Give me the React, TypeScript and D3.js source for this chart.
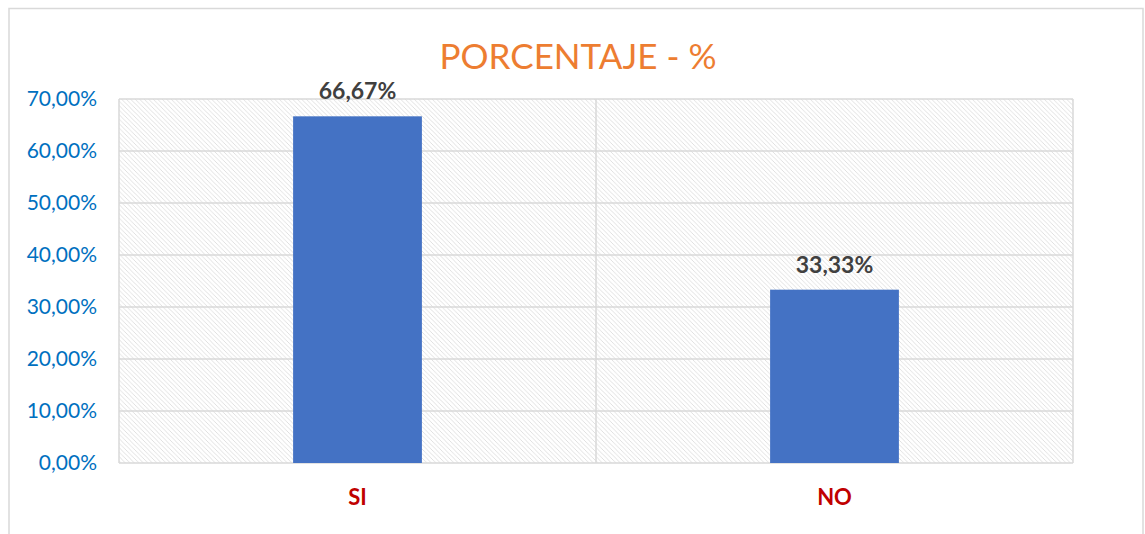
import React from "react";
import * as d3 from "d3";

const categories = ["SI", "NO"];
const values = [66.67, 33.33];
const valueLabels = ["66,67%", "33,33%"];
const yTicks = [0, 10, 20, 30, 40, 50, 60, 70];
const title = "PORCENTAJE - %";

export default function App() {
  const W = 1145, H = 534;
  const left = 119, right = 1073, top = 99, bottom = 463;
  const x = d3.scaleBand<string>().domain(categories).range([left, right]).paddingInner(0).paddingOuter(0);
  const y = d3.scaleLinear().domain([0, 70]).range([bottom, top]);
  const bw = x.bandwidth() * 0.27;
  const font = "Lato, 'Open Sans', sans-serif";
  const fmt = (v: number) => v.toFixed(2).replace(".", ",") + "%";
  return (
    <svg width={W} height={H} style={{ position: "absolute", left: 0, top: 0 }}>
      <defs>
        <pattern id="hatch" patternUnits="userSpaceOnUse" width={4.5} height={4.5}>
          <path d="M-1,-1 L5.5,5.5 M-1,3.5 L1,5.5 M3.5,-1 L5.5,1" stroke="#dedede" strokeWidth={0.9} />
        </pattern>
      </defs>
      <rect x={0} y={0} width={W} height={H} fill="#fff" />
      <rect x={9} y={8.5} width={1134} height={540} fill="#fff" stroke="#d9d9d9" strokeWidth={1.5} />
      <text x={578} y={69} textAnchor="middle" fill="#ED7D31" fontFamily={font} fontSize={35}>{title}</text>
      <rect x={left} y={top} width={right - left} height={bottom - top} fill="url(#hatch)" />
      {yTicks.map((t) => (
        <line key={t} x1={left} x2={right} y1={y(t)} y2={y(t)} stroke="#d9d9d9" strokeWidth={1.5} />
      ))}
      {[left, (left + right) / 2, right].map((xx, i) => (
        <line key={i} x1={xx} x2={xx} y1={top} y2={bottom} stroke="#d9d9d9" strokeWidth={1.5} />
      ))}
      {yTicks.map((t) => (
        <text key={t} x={97} y={y(t) + 7} textAnchor="end" fill="#0070C0" fontFamily={font} fontSize={21}>{fmt(t)}</text>
      ))}
      {categories.map((c, i) => {
        const cx = (x(c) as number) + x.bandwidth() / 2;
        return (
          <g key={c}>
            <rect x={cx - bw / 2} y={y(values[i])} width={bw} height={bottom - y(values[i])} fill="#4472C4" />
            <text x={cx} y={y(values[i]) - 17} textAnchor="middle" fill="#404040" fontWeight="bold" fontFamily={font} fontSize={23}>{valueLabels[i]}</text>
            <text x={cx} y={505} textAnchor="middle" fill="#C00000" fontWeight="bold" fontFamily={font} fontSize={22}>{c}</text>
          </g>
        );
      })}
    </svg>
  );
}
